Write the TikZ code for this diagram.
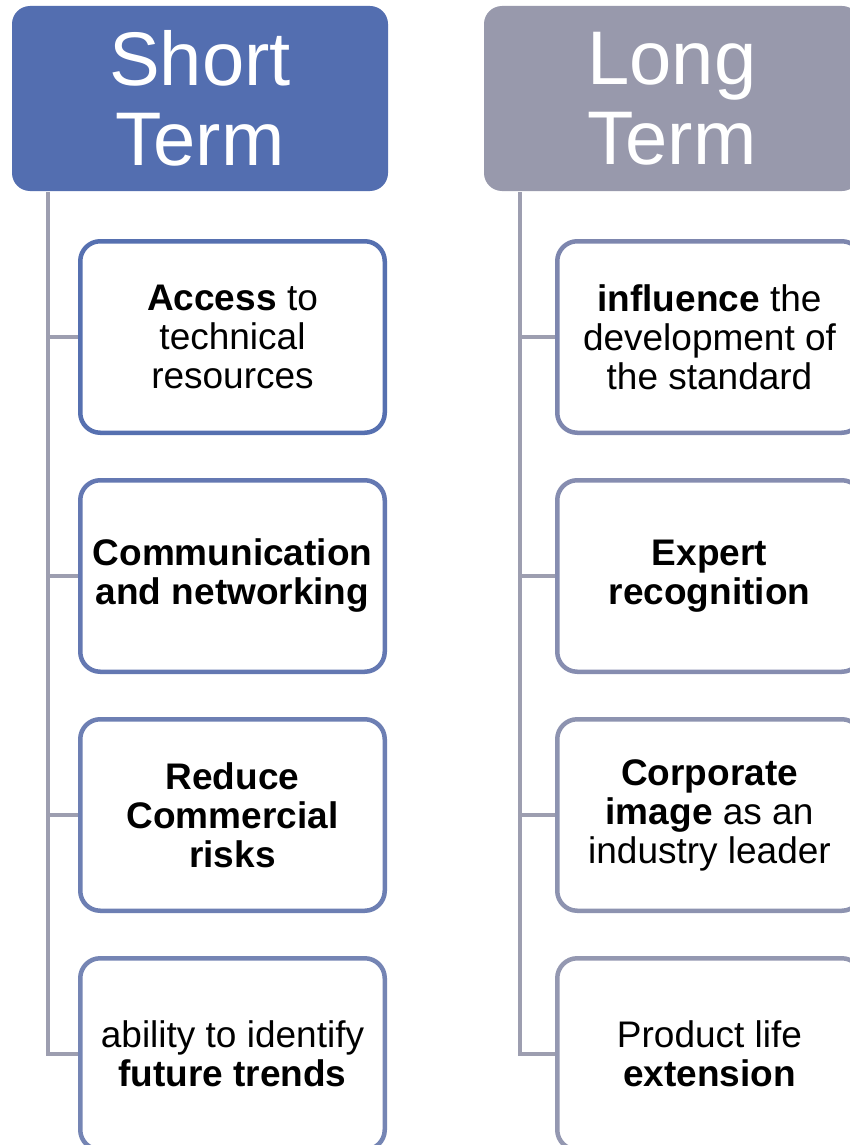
\documentclass[tikz,border=0pt]{standalone}
\usepackage{fontspec}
\setmainfont{Liberation Sans}
\definecolor{hdrblue}{HTML}{536EB0}
\definecolor{hdrgray}{HTML}{9899AC}
\definecolor{conn}{HTML}{9D9EB0}
\definecolor{bl1}{HTML}{5670B0}
\definecolor{bl2}{HTML}{6478B2}
\definecolor{bl3}{HTML}{6D7FB3}
\definecolor{bl4}{HTML}{7585B4}
\definecolor{br1}{HTML}{7D86AE}
\definecolor{br2}{HTML}{868DB0}
\definecolor{br3}{HTML}{8D93B0}
\definecolor{br4}{HTML}{9498B1}
\tikzset{
  header/.style={rounded corners=18pt, minimum width=376pt, minimum height=185pt,
    inner sep=0pt, text=white, align=center, font=\fontsize{76}{80}\selectfont},
  itembox/.style={draw, line width=4.5pt, fill=white, rounded corners=20pt,
    minimum width=304.5pt, minimum height=191.5pt, inner sep=0pt, align=center,
    font=\fontsize{37}{39}\selectfont},
  conline/.style={draw=conn, line width=4.5pt}
}
\begin{document}
\begin{tikzpicture}[x=1pt,y=-1pt]
\useasboundingbox (0,0) rectangle (850,1145);
\clip (0,0) rectangle (850,1145);
\fill[white] (0,0) rectangle (850,1145);

\node[header, fill=hdrblue] (hs) at (200,98.5) {Short\\Term};
\node[header, fill=hdrgray] (hl) at (672,98.5) {Long\\Term};

\coordinate (sl) at (48,192);
\coordinate (sr) at (520,192);

\node[itembox, draw=bl1] (l1) at (232.5,337) {\textbf{Access} to\\technical\\resources};
\node[itembox, draw=bl2] (l2) at (232.5,576) {\textbf{Communication}\\\textbf{and networking}};
\node[itembox, draw=bl3] (l3) at (232.5,815) {\textbf{Reduce}\\\textbf{Commercial}\\\textbf{risks}};
\node[itembox, draw=bl4] (l4) at (232.5,1054) {ability to identify\\\textbf{future trends}};

\node[itembox, draw=br1] (r1) at (709.5,337) {\textbf{influence} the\\development of\\the standard};
\node[itembox, draw=br2] (r2) at (709.5,576) {\textbf{Expert}\\\textbf{recognition}};
\node[itembox, draw=br3] (r3) at (709.5,815) {\textbf{Corporate}\\\textbf{image} as an\\industry leader};
\node[itembox, draw=br4] (r4) at (709.5,1054) {Product life\\\textbf{extension}};

\foreach \b in {l1,l2,l3,l4} \draw[conline] (sl) |- (\b.west);
\foreach \b in {r1,r2,r3,r4} \draw[conline] (sr) |- (\b.west);
\end{tikzpicture}
\end{document}
